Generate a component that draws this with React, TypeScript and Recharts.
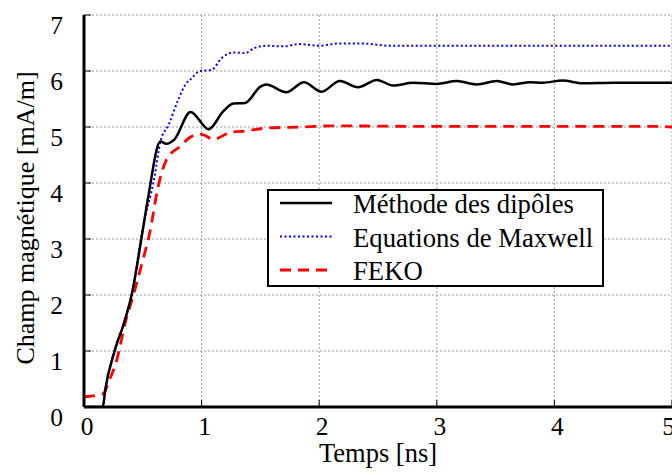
import { LineChart, Line, XAxis, YAxis, CartesianGrid, Legend } from "recharts";

const FONT = '"Liberation Serif", "Times New Roman", serif';

// time axis [ns] and field [mA/m]
const dipoleTime = [
  0, 0.16, 0.18, 0.26, 0.34, 0.405, 0.5, 0.546, 0.65, 0.7, 0.77, 0.906, 1.06, 1.18,
  1.27, 1.37, 1.5, 1.55, 1.72, 1.87, 2.02, 2.175, 2.33, 2.49, 2.63, 2.8, 3.0, 3.17,
  3.34, 3.51, 3.65, 3.79, 3.9, 4.07, 4.24, 4.5, 5.0,
];
const dipoleField = [
  0, 0, 0.3, 1.0, 1.5, 2.0, 3.16, 3.75, 4.74, 4.7, 4.78, 5.27, 4.96, 5.27,
  5.42, 5.43, 5.72, 5.76, 5.62, 5.8, 5.63, 5.82, 5.71, 5.84, 5.74, 5.79, 5.77, 5.82,
  5.76, 5.82, 5.76, 5.8, 5.79, 5.83, 5.78, 5.79, 5.79,
];

const maxwellTime = [
  0, 0.16, 0.18, 0.26, 0.34, 0.405, 0.5, 0.6, 0.65, 0.72, 0.8, 0.86, 0.92, 0.985,
  1.085, 1.17, 1.27, 1.37, 1.45, 1.55, 1.69, 1.835, 2.0, 2.15, 2.37, 2.6, 3.0, 4.0, 5.0,
];
const maxwellField = [
  0, 0, 0.3, 1.0, 1.5, 2.0, 3.2, 4.11, 4.74, 5.04, 5.48, 5.75, 5.88, 6.0,
  6.02, 6.23, 6.33, 6.32, 6.41, 6.45, 6.44, 6.48, 6.45, 6.49, 6.49, 6.45, 6.45, 6.45, 6.45,
];

const fekoTime = [
  0, 0.165, 0.21, 0.28, 0.35, 0.42, 0.5, 0.56, 0.63, 0.7, 0.815, 0.915, 1.0, 1.1,
  1.24, 1.38, 1.55, 1.835, 2.1, 3.0, 4.0, 4.9, 5.0,
];
const fekoField = [
  0.18, 0.24, 0.45, 0.85, 1.5, 2.0, 2.62, 3.12, 3.93, 4.41, 4.65, 4.83, 4.87, 4.78,
  4.9, 4.93, 4.98, 5.0, 5.02, 5.01, 5.01, 5.01, 5.0,
];

const xTicks = [0, 1, 2, 3, 4, 5];
const yTicks = [0, 1, 2, 3, 4, 5, 6, 7];

const toPoints = (t: number[], v: number[]) => t.map((x, i) => ({ t: x, v: v[i] }));

const dipoleData = toPoints(dipoleTime, dipoleField);
const maxwellData = toPoints(maxwellTime, maxwellField);
const fekoData = toPoints(fekoTime, fekoField);

const series = [
  { name: "Méthode des dipôles", color: "#000000", width: 2.5, dash: undefined },
  { name: "Equations de Maxwell", color: "#0000ff", width: 2, dash: "2 2.5" },
  { name: "FEKO", color: "#ff0000", width: 2.8, dash: "11 7" },
];

function LegendBox() {
  return (
    <svg width={337} height={98} style={{ display: "block" }}>
      <rect x={1} y={1} width={335} height={96} fill="#fff" stroke="#000" strokeWidth={2} />
      {series.map((s, i) => {
        const base = 24 + 33.5 * i;
        return (
          <g key={s.name}>
            <line
              x1={13}
              x2={65}
              y1={base - 10}
              y2={base - 10}
              stroke={s.color}
              strokeWidth={s.width}
              strokeDasharray={s.dash}
            />
            <text x={86} y={base} fontFamily={FONT} fontSize={26.7} fill="#000">
              {s.name}
            </text>
          </g>
        );
      })}
    </svg>
  );
}

function YLabel(props: any) {
  const vb = props.viewBox || { x: 0, y: 15, width: 84, height: 392 };
  const x = vb.x + 34;
  const y = vb.y + vb.height / 2 + 7;
  return (
    <text
      x={x}
      y={y}
      transform={`rotate(-90, ${x}, ${y})`}
      textAnchor="middle"
      fontFamily={FONT}
      fontSize={26}
      fill="#000"
    >
      Champ magnétique [mA/m]
    </text>
  );
}

export default function App() {
  const tickStyle = { fill: "#000", fontSize: 25.5, fontFamily: FONT };
  return (
    <div style={{ position: "absolute", left: 0, top: 0, background: "#fff" }}>
      <LineChart
        width={672}
        height={475}
        margin={{ top: 15, right: 0, bottom: 0, left: 0 }}
        style={{ fontFamily: FONT }}
      >
        <CartesianGrid stroke="#999" strokeDasharray="2 2" strokeWidth={1} />
        <XAxis
          dataKey="t"
          type="number"
          domain={[0, 5]}
          ticks={xTicks}
          height={68}
          allowDataOverflow
          axisLine={{ stroke: "#000", strokeWidth: 2.8 }}
          tickLine={{ stroke: "#000", strokeWidth: 1 }}
          tickSize={-7}
          tickMargin={17}
          tick={{ ...tickStyle, dx: 3 }}
          label={{
            value: "Temps [ns]",
            position: "insideBottom",
            offset: 13,
            fill: "#000",
            fontSize: 26.5,
            fontFamily: FONT,
          }}
        />
        <XAxis
          xAxisId="top"
          orientation="top"
          type="number"
          domain={[0, 5]}
          ticks={xTicks}
          height={0}
          axisLine={{ stroke: "#000", strokeWidth: 2.8 }}
          tickLine={{ stroke: "#000", strokeWidth: 1 }}
          tickSize={-7}
          tick={false}
        />
        <YAxis
          type="number"
          domain={[0, 7]}
          ticks={yTicks}
          width={84}
          allowDataOverflow
          axisLine={{ stroke: "#000", strokeWidth: 3 }}
          tickLine={{ stroke: "#000", strokeWidth: 1 }}
          tickSize={-7}
          tickMargin={28}
          tick={{ ...tickStyle, dy: 10 }}
          label={(p: any) => <YLabel {...p} />}
        />
        <YAxis
          yAxisId="right"
          orientation="right"
          type="number"
          domain={[0, 7]}
          ticks={yTicks}
          width={0}
          axisLine={false}
          tickLine={{ stroke: "#000", strokeWidth: 1 }}
          tickSize={-7}
          tick={false}
        />
        <Legend
          layout="horizontal"
          verticalAlign="middle"
          align="center"
          content={() => <LegendBox />}
          wrapperStyle={{ left: 267, top: 189, width: 337, height: 98 }}
        />
        <Line
          data={fekoData}
          dataKey="v"
          type="monotone"
          stroke="#ff0000"
          strokeWidth={2.8}
          strokeDasharray="11 7"
          dot={false}
          isAnimationActive={false}
        />
        <Line
          data={maxwellData}
          dataKey="v"
          type="monotone"
          stroke="#0000ff"
          strokeWidth={2}
          strokeDasharray="2 2.5"
          dot={false}
          isAnimationActive={false}
        />
        <Line
          data={dipoleData}
          dataKey="v"
          type="monotone"
          stroke="#000000"
          strokeWidth={2.5}
          dot={false}
          isAnimationActive={false}
        />
      </LineChart>
    </div>
  );
}
